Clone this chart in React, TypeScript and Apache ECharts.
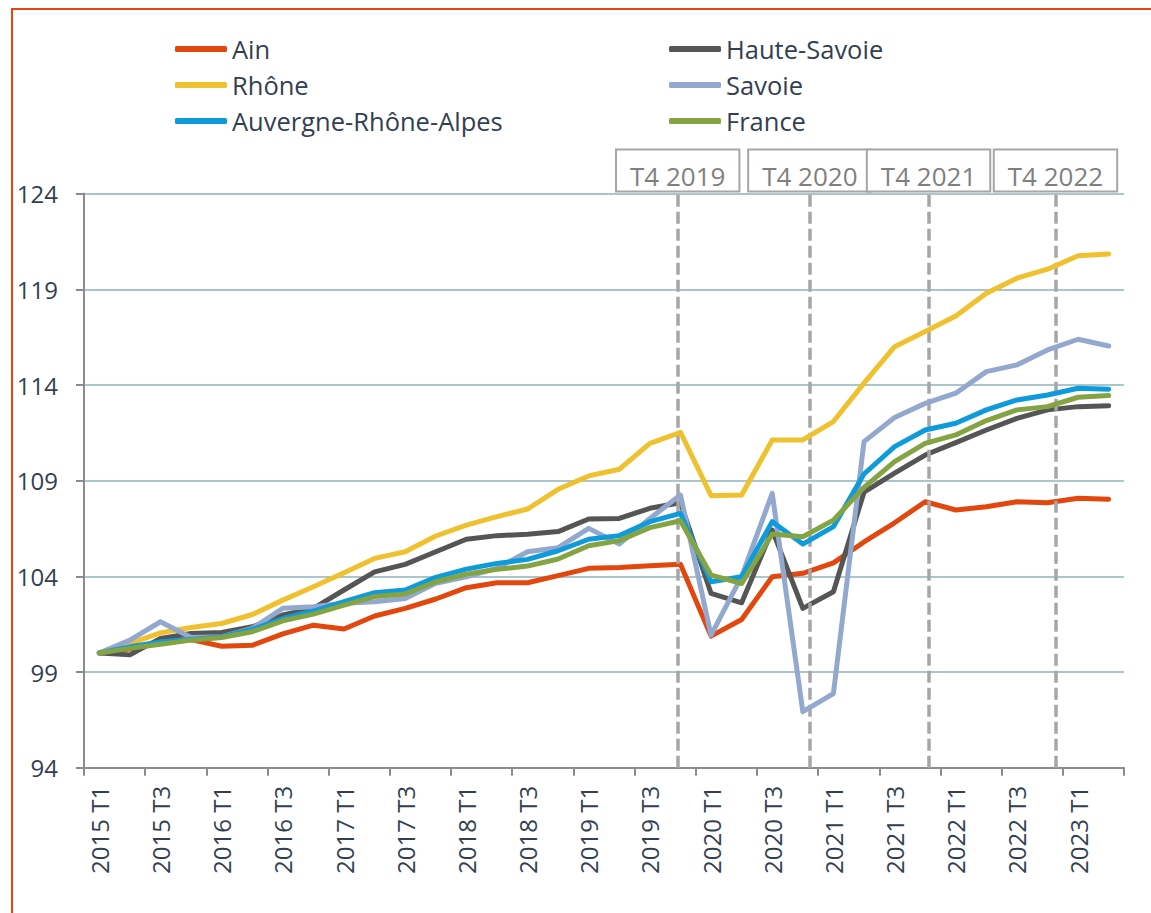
import React, { useEffect, useRef } from "react";
import * as echarts from "echarts";

const quarters = [
  "2015 T1", "2015 T2", "2015 T3", "2015 T4",
  "2016 T1", "2016 T2", "2016 T3", "2016 T4",
  "2017 T1", "2017 T2", "2017 T3", "2017 T4",
  "2018 T1", "2018 T2", "2018 T3", "2018 T4",
  "2019 T1", "2019 T2", "2019 T3", "2019 T4",
  "2020 T1", "2020 T2", "2020 T3", "2020 T4",
  "2021 T1", "2021 T2", "2021 T3", "2021 T4",
  "2022 T1", "2022 T2", "2022 T3", "2022 T4",
  "2023 T1", "2023 T2",
];

const ain = [
  100, 100.2, 100.6, 100.7, 100.35, 100.4, 101.0, 101.45, 101.25, 101.93,
  102.33, 102.82, 103.41, 103.67, 103.67, 104.04, 104.42, 104.46, 104.56, 104.63,
  100.88, 101.75, 103.98, 104.16, 104.71, 105.8, 106.8, 107.9, 107.47, 107.64,
  107.9, 107.85, 108.08, 108.03,
];
const hauteSavoie = [
  100, 99.9, 100.76, 101.02, 101.07, 101.37, 101.98, 102.33, 103.29, 104.24,
  104.63, 105.29, 105.94, 106.13, 106.2, 106.34, 107.0, 107.03, 107.56, 107.85,
  103.11, 102.62, 106.42, 102.33, 103.2, 108.4, 109.39, 110.34, 110.99, 111.65,
  112.26, 112.7, 112.87, 112.92,
];
const rhone = [
  100, 100.5, 101.05, 101.33, 101.54, 102.01, 102.76, 103.46, 104.19, 104.94,
  105.29, 106.11, 106.68, 107.12, 107.52, 108.55, 109.25, 109.6, 110.95, 111.53,
  108.22, 108.25, 111.13, 111.13, 112.09, 114.1, 116.0, 116.79, 117.61, 118.79,
  119.58, 120.05, 120.75, 120.85,
];
const savoie = [
  100, 100.67, 101.63, 100.81, 100.85, 101.28, 102.33, 102.42, 102.6, 102.68,
  102.85, 103.64, 103.98, 104.42, 105.29, 105.5, 106.51, 105.69, 107.03, 108.25,
  100.93, 104.0, 108.34, 96.93, 97.88, 111.04, 112.3, 113.04, 113.57, 114.7,
  115.05, 115.83, 116.39, 116.04,
];
const ara = [
  100, 100.32, 100.58, 100.71, 100.85, 101.23, 101.8, 102.19, 102.68, 103.15,
  103.29, 103.95, 104.38, 104.68, 104.89, 105.34, 105.94, 106.13, 106.86, 107.29,
  103.72, 103.98, 106.86, 105.69, 106.6, 109.35, 110.78, 111.65, 112.0, 112.7,
  113.22, 113.48, 113.83, 113.78,
];
const france = [
  100, 100.24, 100.45, 100.67, 100.81, 101.11, 101.68, 102.03, 102.5, 102.95,
  103.08, 103.72, 104.12, 104.37, 104.54, 104.91, 105.6, 105.87, 106.55, 106.91,
  104.07, 103.63, 106.21, 106.07, 106.94, 108.65, 110.0, 110.95, 111.39, 112.14,
  112.7, 112.87, 113.36, 113.45,
];

const seriesNames = ["Ain", "Haute-Savoie", "Rhône", "Savoie", "Auvergne-Rhône-Alpes", "France"];
const seriesValues = [ain, hauteSavoie, rhone, savoie, ara, france];
const seriesColors = ["#E2470E", "#555555", "#EFC12E", "#93A8CE", "#0E9BDB", "#84A443"];

const legendLeft = ["Ain", "Rhône", "Auvergne-Rhône-Alpes"];
const legendRight = ["Haute-Savoie", "Savoie", "France"];

// vertical marker annotations, placed on the quarter axis (in category-band units)
const markerLabels = ["T4 2019", "T4 2020", "T4 2021", "T4 2022"];
const markerPositions = [19.41, 23.73, 27.61, 31.76];

const Y_BASE = 94;
const Y_TOP = 124;
const Y_STEP = 5;

const FONT = "'Open Sans', 'Noto Sans', sans-serif";
const TEXT_COLOR = "#333F50";

export default function App() {
  const ref = useRef<HTMLDivElement>(null);

  useEffect(() => {
    if (!ref.current) return;
    const chart = echarts.init(ref.current, undefined, { renderer: "svg" });

    const lineSeries = seriesNames.map((name, i) => ({
      name,
      type: "line",
      xAxisIndex: 0,
      yAxisIndex: 0,
      data: seriesValues[i].map((v) => +(v - Y_BASE).toFixed(4)),
      symbol: "none",
      showSymbol: false,
      color: seriesColors[i],
      lineStyle: { color: seriesColors[i], width: 5, cap: "round", join: "round" },
      z: 3 + i,
    }));

    const legendCommon = {
      orient: "vertical",
      icon: "roundRect",
      itemWidth: 52,
      itemHeight: 6,
      itemGap: 8,
      selectedMode: false,
      textStyle: { fontFamily: FONT, fontSize: 25.5, lineHeight: 28, color: TEXT_COLOR },
    };

    chart.setOption({
      animation: false,
      backgroundColor: "#ffffff",
      textStyle: { fontFamily: FONT },
      legend: [
        { ...legendCommon, left: 170, top: 30, data: legendLeft },
        { ...legendCommon, left: 664, top: 30, data: legendRight },
      ],
      grid: { left: 84, right: 27, top: 193.6, bottom: 145.2, containLabel: false },
      xAxis: [
        {
          type: "category",
          data: quarters,
          boundaryGap: true,
          axisLine: { show: true, lineStyle: { color: "#8C8C8C", width: 2 } },
          axisTick: { show: true, interval: 1, length: 8, lineStyle: { color: "#8C8C8C", width: 2 } },
          axisLabel: {
            interval: 1,
            rotate: 90,
            margin: 18,
            fontSize: 24,
            fontFamily: FONT,
            color: TEXT_COLOR,
          },
          splitLine: { show: false },
        },
        {
          type: "value",
          min: 0,
          max: quarters.length,
          show: false,
        },
      ],
      yAxis: {
        type: "value",
        min: 0,
        max: Y_TOP - Y_BASE,
        interval: Y_STEP,
        axisLine: { show: true, lineStyle: { color: "#8C8C8C", width: 2 } },
        axisTick: { show: true, length: 8, lineStyle: { color: "#8C8C8C", width: 2 } },
        axisLabel: {
          margin: 26,
          fontSize: 24,
          fontFamily: FONT,
          color: TEXT_COLOR,
          formatter: (v: number) => String(v + Y_BASE),
        },
        splitLine: { show: true, lineStyle: { color: "#A9C6CC", width: 2 } },
      },
      series: [
        {
          name: "markers",
          type: "line",
          xAxisIndex: 1,
          yAxisIndex: 0,
          data: [],
          z: 2,
          markLine: {
            silent: true,
            symbol: "none",
            animation: false,
            lineStyle: { color: "#A6A6A6", width: 3.5, type: [12, 5] },
            label: {
              show: true,
              position: "end",
              distance: 3,
              formatter: "{b}",
              fontFamily: FONT,
              fontSize: 26,
              lineHeight: 30,
              color: "#7F7F7F",
              backgroundColor: "#ffffff",
              borderColor: "#A6A6A6",
              borderWidth: 2,
              padding: [10, 13, 0, 13],
            },
            data: markerLabels.map((name, i) => ({ name, xAxis: markerPositions[i] })),
          },
        },
        ...lineSeries,
      ],
    });

    return () => chart.dispose();
  }, []);

  return (
    <div style={{ position: "fixed", left: 0, top: 0, width: 1151, height: 913, overflow: "hidden", background: "#fff" }}>
      <div ref={ref} style={{ position: "absolute", left: 0, top: 0, width: 1151, height: 913 }} />
      <div
        style={{
          position: "absolute",
          left: 11,
          top: 8,
          width: 1200,
          height: 1000,
          borderTop: "2px solid #E2470E",
          borderLeft: "2px solid #E2470E",
          pointerEvents: "none",
        }}
      />
    </div>
  );
}
